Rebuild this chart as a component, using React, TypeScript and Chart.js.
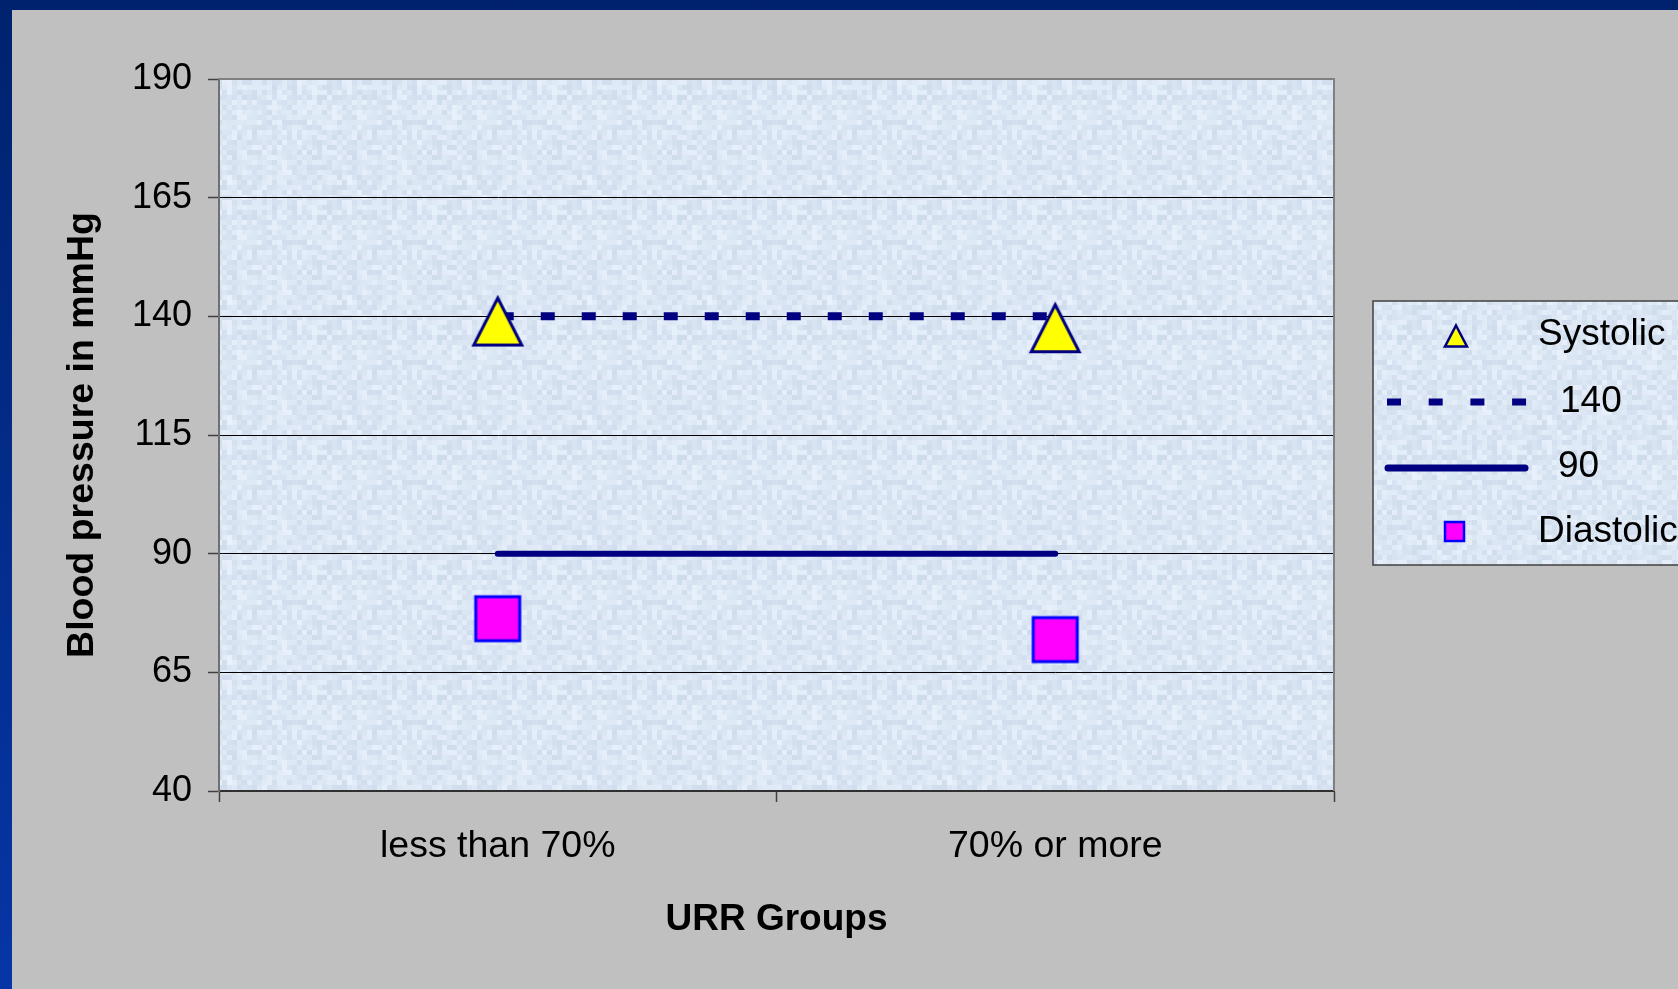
import React, { useEffect, useRef } from "react";
import { Chart, registerables } from "chart.js";

Chart.register(...registerables);

const categories = ["less than 70%", "70% or more"];
const systolic = [138.9, 137.5];
const diastolic = [76.3, 71.9];
const line140 = [140, 140];
const line90 = [90, 90];
const yTicks = [40, 65, 90, 115, 140, 165, 190];
const seriesNames = ["Systolic", "140", "90", "Diastolic"];
const xTitle = "URR Groups";
const yTitle = "Blood pressure in mmHg";

const FONT = "'Liberation Sans', Arial, sans-serif";
const NAVY = "#000080";

function makeTexture(): HTMLCanvasElement {
  const c = document.createElement("canvas");
  c.width = 120;
  c.height = 120;
  const g = c.getContext("2d")!;
  for (let i = 0; i < 24; i++) {
    for (let j = 0; j < 24; j++) {
      let h = (Math.imul(i, 374761393) + Math.imul(j, 668265263)) | 0;
      h = Math.imul(h ^ (h >>> 13), 1274126177);
      h = h ^ (h >>> 16);
      const t = (h & 255) / 255;
      const r = Math.round(207 + t * 24);
      const gg = Math.round(220 + t * 20);
      const b = Math.round(236 + t * 15);
      g.fillStyle = `rgb(${r},${gg},${b})`;
      g.fillRect(i * 5, j * 5, 5, 5);
    }
  }
  return c;
}

function makeTriangle(): HTMLCanvasElement {
  const c = document.createElement("canvas");
  c.width = 56;
  c.height = 56;
  const g = c.getContext("2d")!;
  g.beginPath();
  g.moveTo(28, 4.5);
  g.lineTo(52, 51.5);
  g.lineTo(4, 51.5);
  g.closePath();
  g.fillStyle = "#ffff00";
  g.fill();
  g.lineWidth = 3;
  g.lineJoin = "miter";
  g.strokeStyle = NAVY;
  g.stroke();
  return c;
}

function makeSquare(): HTMLCanvasElement {
  const c = document.createElement("canvas");
  c.width = 50;
  c.height = 50;
  const g = c.getContext("2d")!;
  g.fillStyle = "#ff00ff";
  g.fillRect(3, 3, 44, 44);
  g.lineWidth = 3;
  g.strokeStyle = "#0000ff";
  g.strokeRect(3, 3, 44, 44);
  return c;
}

export default function App() {
  const ref = useRef<HTMLCanvasElement | null>(null);

  useEffect(() => {
    if (!ref.current) return;
    const tex = makeTexture();
    const tri = makeTriangle();
    const sq = makeSquare();

    const deco = {
      id: "deco",
      beforeDraw(chart: any) {
        const { ctx, chartArea: a } = chart;
        ctx.save();
        ctx.fillStyle = ctx.createPattern(tex, "repeat");
        ctx.fillRect(a.left, a.top, a.right - a.left, a.bottom - a.top);
        ctx.restore();
      },
      beforeDatasetsDraw(chart: any) {
        const { ctx, chartArea: a } = chart;
        ctx.save();
        ctx.strokeStyle = "#808080";
        ctx.lineWidth = 2;
        ctx.beginPath();
        ctx.moveTo(a.left, a.top);
        ctx.lineTo(a.right, a.top);
        ctx.lineTo(a.right, a.bottom);
        ctx.stroke();
        ctx.restore();
      },
      afterDraw(chart: any) {
        const { ctx, chartArea: a } = chart;
        const bx = a.right + 39;
        const by = 291;
        ctx.save();
        ctx.fillStyle = ctx.createPattern(tex, "repeat");
        ctx.fillRect(bx, by, 400, 264);
        ctx.strokeStyle = "#404040";
        ctx.lineWidth = 1.5;
        ctx.strokeRect(bx, by, 400, 264);

        // Systolic triangle
        const tx = bx + 83, ty = by + 35;
        ctx.beginPath();
        ctx.moveTo(tx, ty - 10.5);
        ctx.lineTo(tx + 11, ty + 10.5);
        ctx.lineTo(tx - 11, ty + 10.5);
        ctx.closePath();
        ctx.fillStyle = "#ffff00";
        ctx.fill();
        ctx.lineWidth = 2.5;
        ctx.strokeStyle = NAVY;
        ctx.stroke();

        // 140 dashed
        ctx.beginPath();
        ctx.setLineDash([14, 27.7]);
        ctx.lineWidth = 7;
        ctx.lineCap = "butt";
        ctx.moveTo(bx + 14, by + 101);
        ctx.lineTo(bx + 154, by + 101);
        ctx.stroke();
        ctx.setLineDash([]);

        // 90 solid
        ctx.beginPath();
        ctx.lineWidth = 7;
        ctx.lineCap = "round";
        ctx.moveTo(bx + 15, by + 167);
        ctx.lineTo(bx + 152, by + 167);
        ctx.stroke();

        // Diastolic square
        ctx.fillStyle = "#ff00ff";
        ctx.fillRect(bx + 72, by + 221, 19, 19);
        ctx.lineWidth = 2.5;
        ctx.strokeStyle = "#0000ff";
        ctx.strokeRect(bx + 72, by + 221, 19, 19);

        ctx.fillStyle = "#000";
        ctx.font = `37px ${FONT}`;
        ctx.textBaseline = "alphabetic";
        ctx.textAlign = "left";
        ctx.fillText(seriesNames[0], bx + 165, by + 44);
        ctx.fillText(seriesNames[1], bx + 187, by + 111);
        ctx.fillText(seriesNames[2], bx + 185, by + 176);
        ctx.fillText(seriesNames[3], bx + 165, by + 241);
        ctx.restore();
      },
    };

    const chart = new Chart(ref.current, {
      type: "line",
      data: {
        labels: categories,
        datasets: [
          {
            label: seriesNames[0],
            data: systolic,
            showLine: false,
            pointStyle: tri as any,
            pointRadius: 25,
            pointHoverRadius: 25,
          },
          {
            label: seriesNames[1],
            data: line140,
            borderColor: NAVY,
            borderWidth: 8,
            borderDash: [14, 27],
            borderDashOffset: -2,
            borderCapStyle: "butt",
            pointRadius: 0,
            pointHoverRadius: 0,
          },
          {
            label: seriesNames[2],
            data: line90,
            borderColor: NAVY,
            borderWidth: 6,
            borderCapStyle: "round",
            pointRadius: 0,
            pointHoverRadius: 0,
          },
          {
            label: seriesNames[3],
            data: diastolic,
            showLine: false,
            pointStyle: sq as any,
            pointRadius: 25,
            pointHoverRadius: 25,
          },
        ],
      },
      plugins: [deco],
      options: {
        responsive: false,
        animation: false,
        events: [],
        layout: { padding: { left: 0, top: 69, right: 344, bottom: 0 } },
        plugins: {
          legend: { display: false },
          tooltip: { enabled: false },
        },
        scales: {
          x: {
            offset: true,
            afterFit: (s: any) => {
              s.height = 198;
            },
            grid: {
              offset: true,
              drawOnChartArea: false,
              drawTicks: true,
              tickLength: 11,
              tickColor: "#404040",
              tickWidth: 1.5,
            },
            border: { display: true, color: "#303030", width: 2 },
            ticks: {
              color: "#000",
              padding: 22,
              maxRotation: 0,
              font: { family: FONT, size: 37.5 },
            },
            title: {
              display: true,
              text: xTitle,
              color: "#000",
              font: { family: FONT, size: 37, weight: "bold" },
              padding: { top: 0, bottom: 47 },
            },
          },
          y: {
            min: yTicks[0],
            max: yTicks[yTicks.length - 1],
            afterBuildTicks: (s: any) => {
              s.ticks = yTicks.map((v) => ({ value: v }));
            },
            afterFit: (s: any) => {
              s.width = 207;
            },
            grid: {
              color: (c: any) =>
                c.tick && (c.tick.value === yTicks[0] || c.tick.value === yTicks[yTicks.length - 1])
                  ? "rgba(0,0,0,0)"
                  : "#000",
              lineWidth: 1,
              drawTicks: true,
              tickLength: 11,
              tickColor: "#404040",
              tickWidth: 1.5,
            },
            border: { display: true, color: "#707070", width: 2 },
            ticks: {
              color: "#000",
              padding: 16,
              font: { family: FONT, size: 36 },
            },
            title: {
              display: true,
              text: yTitle,
              color: "#000",
              font: { family: FONT, size: 37.5, weight: "bold" },
              padding: { top: 48, bottom: 0 },
            },
          },
        },
      } as any,
    });
    return () => chart.destroy();
  }, []);

  return (
    <div
      style={{
        position: "fixed",
        left: 0,
        top: 0,
        width: 1678,
        height: 989,
        background: "linear-gradient(to bottom, #00226e, #0636a6)",
      }}
    >
      <div
        style={{
          position: "absolute",
          left: 12,
          top: 10,
          width: 1666,
          height: 979,
          background: "#c0c0c0",
        }}
      >
        <canvas ref={ref} width={1666} height={979} style={{ display: "block" }} />
      </div>
    </div>
  );
}
